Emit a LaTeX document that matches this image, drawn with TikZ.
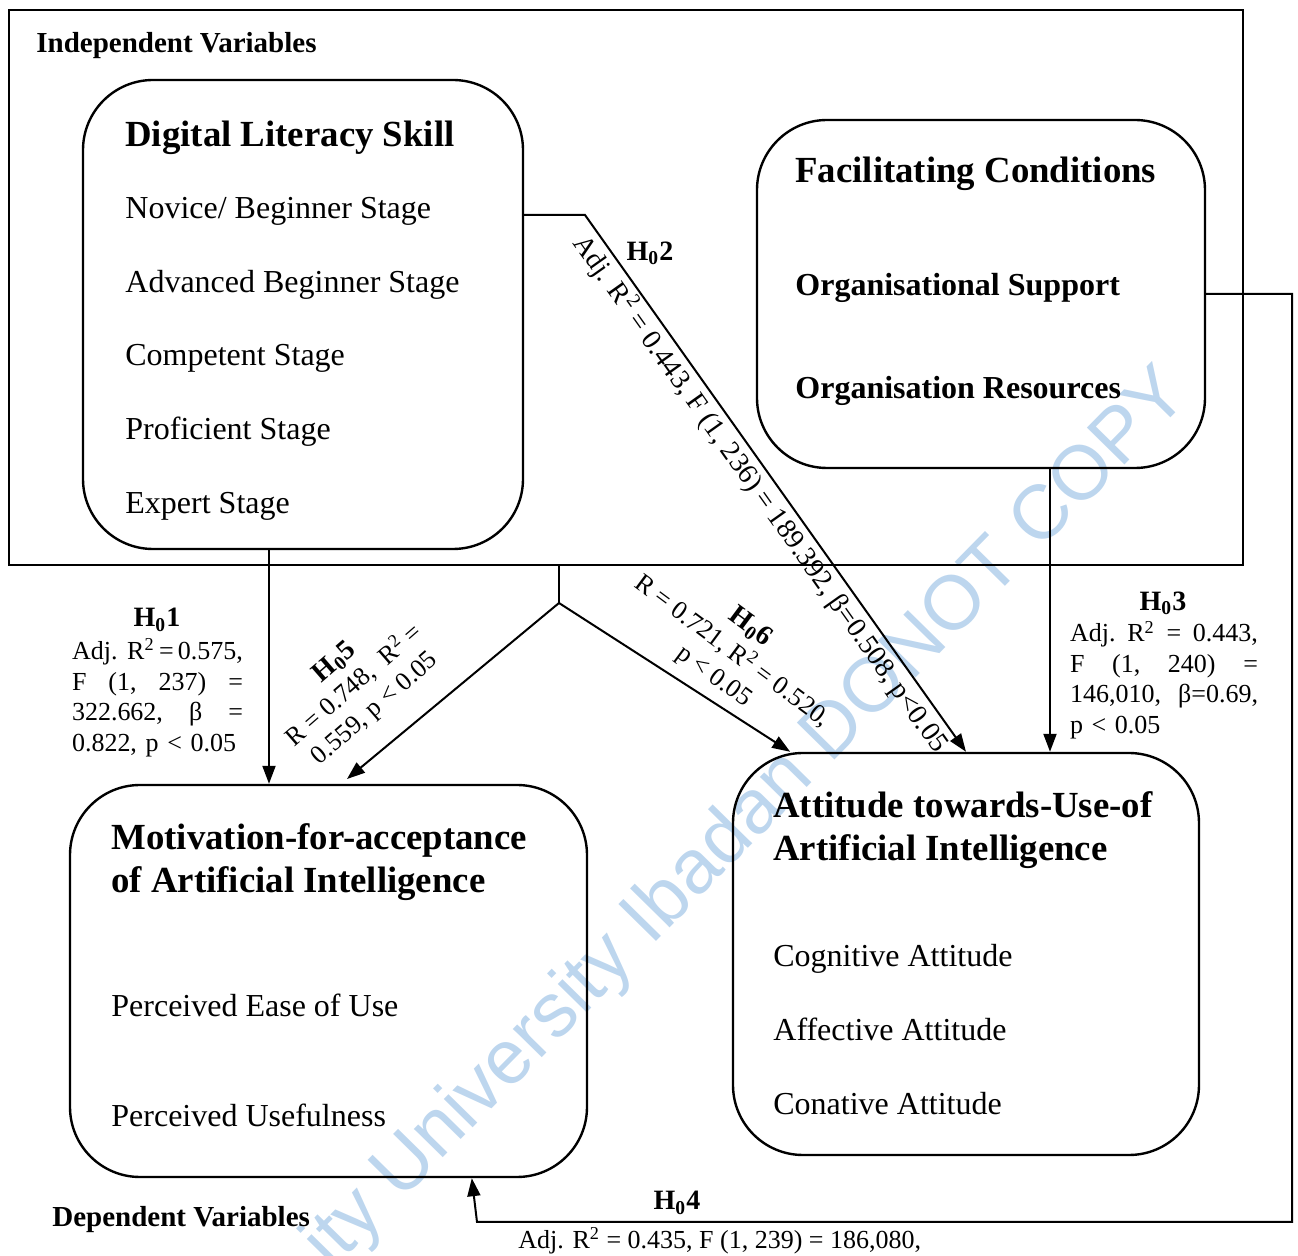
\documentclass[tikz,border=0pt]{standalone}
\usepackage{fontspec}
\setmainfont{Liberation Serif}
\newfontfamily\wmfont{Liberation Sans}
\usetikzlibrary{positioning, arrows.meta}
\definecolor{wmblue}{RGB}{189,214,238}

\begin{document}
\begin{tikzpicture}[x=0.5pt, y=-0.5pt,
  box/.style = {draw, line width=1.2pt, rounded corners=35pt, inner sep=0pt},
  grp/.style = {anchor=base west, inner sep=0pt, font=\fontsize{14.5}{17}\selectfont\bfseries},
  title/.style = {anchor=base west, inner sep=0pt, font=\fontsize{18.4}{22}\selectfont\bfseries},
  item/.style = {anchor=base west, inner sep=0pt, font=\fontsize{16}{19}\selectfont},
  hyp/.style = {inner sep=0pt, font=\fontsize{14}{17}\selectfont\bfseries},
  stat/.style = {inner sep=0pt, font=\fontsize{13}{15.3}\selectfont},
  arr/.style = {line width=1pt, -{Triangle[length=9pt, width=6.5pt]}}]
\useasboundingbox (0,0) rectangle (1298,1256);
\clip (0,0) rectangle (1298,1256);

% watermark
\node[text=wmblue, rotate=45.5, font=\wmfont\fontsize{38.3}{46}\selectfont] (wm) at (748,820) {ity University Ibadan DONOT COPY};

% boxes
\node[draw, line width=1pt, minimum width=617pt, minimum height=277.5pt, inner sep=0pt] (ind) at (626,287.5) {};
\node[box, minimum width=220pt, minimum height=234.5pt] (dls) at (303,314.5) {};
\node[box, minimum width=224pt, minimum height=174pt] (fc) at (981,294) {};
\node[box, minimum width=258.5pt, minimum height=196pt] (mot) at (328.5,981) {};
\node[box, minimum width=233pt, minimum height=201pt] (att) at (966,954) {};

\node[grp] (indl) at (36,53) {Independent Variables};
\node[grp] (depl) at (52,1227) {Dependent Variables};

\node[title] (dlst) at (125,147) {Digital Literacy Skill};
\node[item] (d1) at (125,219) {Novice/ Beginner Stage};
\node[item] (d2) at (125,293) {Advanced Beginner Stage};
\node[item] (d3) at (125,366) {Competent Stage};
\node[item] (d4) at (125,440) {Proficient Stage};
\node[item] (d5) at (125,514) {Expert Stage};

\node[title] (fct) at (795,183) {Facilitating Conditions};
\node[item, font=\fontsize{16}{19}\selectfont\bfseries] (f1) at (795,296) {Organisational Support};
\node[item, font=\fontsize{16}{19}\selectfont\bfseries] (f2) at (795,399) {Organisation Resources};

\node[title] (mott) at (111,850) {Motivation-for-acceptance};
\node[title] (mott2) at (111,893) {of Artificial Intelligence};
\node[item] (m1) at (111,1017) {Perceived Ease of Use};
\node[item] (m2) at (111,1127) {Perceived Usefulness};

\node[title] (attt) at (773,818) {Attitude towards-Use-of};
\node[title] (attt2) at (773,861) {Artificial Intelligence};
\node[item] (a1) at (773,967) {Cognitive Attitude};
\node[item] (a2) at (773,1041) {Affective Attitude};
\node[item] (a3) at (773,1115) {Conative Attitude};

% connectors
\coordinate (x1) at (269,0);
\coordinate (x3) at (1050,0);
\coordinate (b2) at (585,215);
\coordinate (fork) at (559,603);
\coordinate (t5) at (347,779);
\coordinate (c4a) at (1292,294);
\coordinate (c4b) at (1292,1222);
\coordinate (c4c) at (477,1222);

\draw[arr] (dls.south -| x1) -- (mot.north -| x1);
\draw[arr] (dls.east |- b2) -- (b2) -- node[sloped, below=1pt, inner sep=0pt, font=\fontsize{14}{17}\selectfont] {Adj. R\textsuperscript{2} = 0.443, F (1, 236) = 189.392, β=0.508, p<0.05} (att.north);
\draw[arr] (fc.south -| x3) -- (att.north -| x3);
\draw[arr] (fc.east) -- (c4a) -- (c4b) -- (c4c) -- (mot.-54.75);
\draw[line width=1pt] (ind.south -| fork) -- (fork);
\draw[arr] (fork) -- (t5);
\draw[arr] (fork) -- (att.131.7);

% hypotheses
\node[hyp] (h1) at (157,620) {H\textsubscript{0}1};
\node[stat, text width=85.5pt, align=left] (s1) at (157.5,698) {Adj.\hfill R\textsuperscript{2}\,=\,0.575,\\ F\hfill (1,\hfill 237)\hfill =\\ 322.662,\hfill β\hfill =\\ 0.822, p < 0.05};
\node[hyp] (h2) at (650,253) {H\textsubscript{0}2};
\node[hyp] (h3) at (1163,603) {H\textsubscript{0}3};
\node[stat, text width=94pt, align=left] (s3) at (1164,680) {Adj.\hfill R\textsuperscript{2}\hfill =\hfill 0.443,\\ F\hfill (1,\hfill 240)\hfill =\\ 146,010,\hfill β=0.69,\\ p < 0.05};
\node[hyp] (h4) at (677,1203) {H\textsubscript{0}4};
\node[stat, anchor=west] (s4) at (518,1241) {Adj. R\textsuperscript{2} = 0.435, F (1, 239) = 186,080,};
\node[stat, rotate=41, align=center] (s5) at (355,686) {{\fontsize{14}{17}\selectfont\bfseries H\textsubscript{0}5}\\ R = 0.748,\ \ R\textsuperscript{2} =\\ 0.559, p < 0.05};
\node[stat, rotate=-36.6, align=center] (s6) at (732,652) {{\fontsize{14}{17}\selectfont\bfseries H\textsubscript{0}6}\\ R = 0.721, R\textsuperscript{2} = 0.520,\\ p < 0.05};
\end{tikzpicture}
\end{document}
